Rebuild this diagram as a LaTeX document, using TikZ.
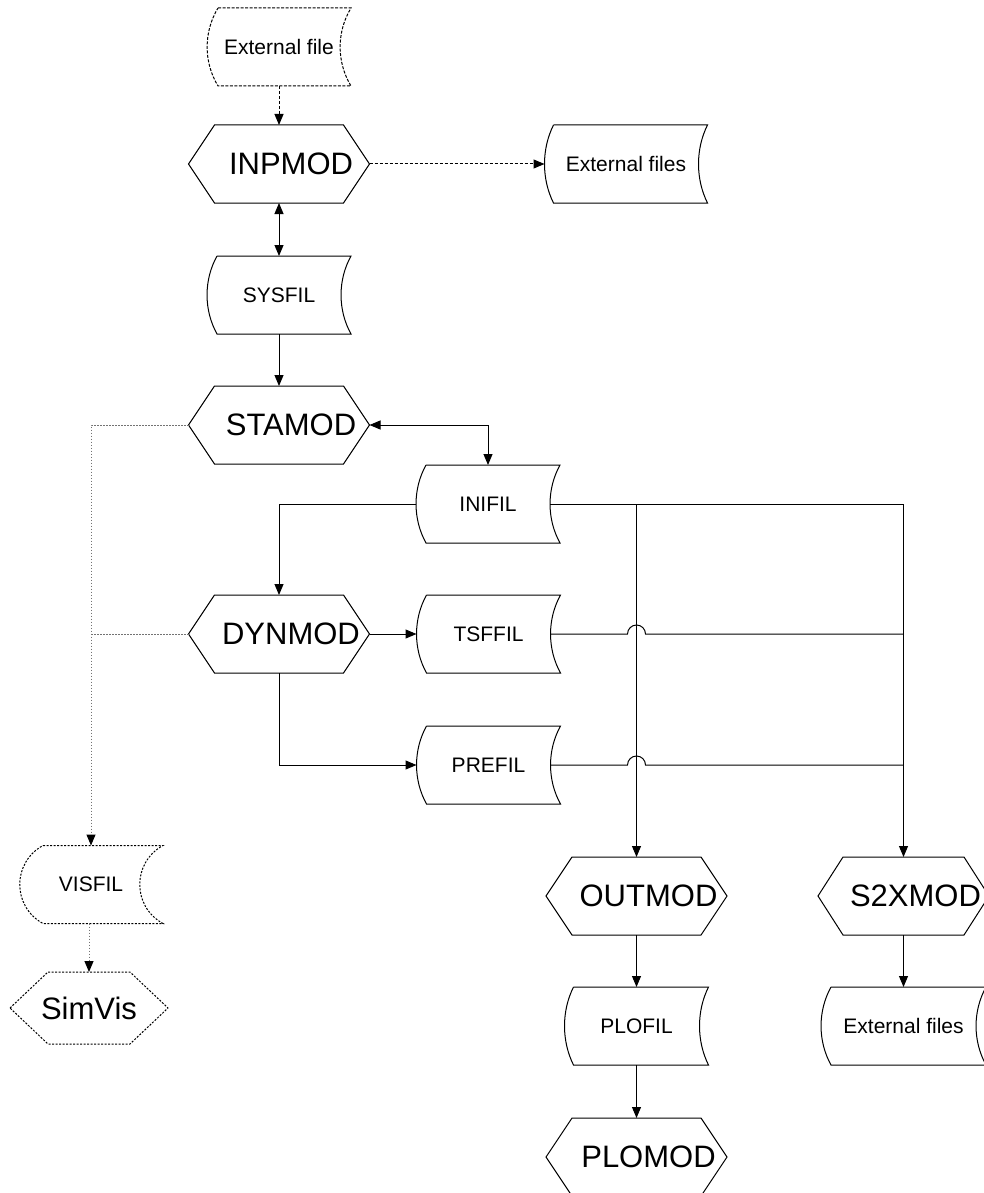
\documentclass[tikz,border=0pt]{standalone}
\usepackage{fontspec}
\setmainfont{Liberation Sans}
\usetikzlibrary{arrows.meta,positioning}
\newcommand{\modfont}{\fontsize{31}{37}\selectfont}
\newcommand{\filfont}{\fontsize{21}{25}\selectfont}

\begin{document}
\begin{tikzpicture}[x=1pt, y=-1pt,
	every node/.style={inner sep=0pt, outer sep=0pt},
	modbox/.style={minimum width=181pt, minimum height=78pt, font=\modfont,
		execute at begin node=\hspace*{24pt}},
	filebox/.style={minimum width=144pt, minimum height=78pt, font=\filfont},
	shapeline/.style={line width=1pt, black},
	dashline/.style={shapeline, dash pattern=on 3pt off 1.5pt},
	dotshape/.style={shapeline, dash pattern=on 2pt off 1.5pt},
	link/.style={line width=1pt, black},
	flow/.style={link, -{Triangle[length=11pt,width=9pt]}},
	dflow/.style={link, {Triangle[length=11pt,width=9pt]}-{Triangle[length=11pt,width=9pt]}},
	dashflow/.style={flow, dash pattern=on 3pt off 2pt},
	dotlink/.style={line width=1pt, black!55, dash pattern=on 1.5pt off 1.5pt},
	dotflow/.style={dotlink, -{Triangle[length=11pt,width=9pt,color=black]}},
]
\useasboundingbox (0,0) rectangle (984,1193);
\clip (0,0) rectangle (984,1193);

% main chain
\node[filebox] (extin) at (279,47) {External file};
\node[modbox, below=39pt of extin] (inpmod) {INPMOD};
\node[filebox, minimum width=163pt, right=175pt of inpmod] (extout) {External files};
\node[filebox, below=53pt of inpmod] (sysfil) {SYSFIL};
\node[modbox, below=52pt of sysfil] (stamod) {STAMOD};
\node[filebox] (inifil) at (488,504) {INIFIL};
\node[modbox, below=131pt of stamod] (dynmod) {DYNMOD};
\node[filebox, right=47pt of dynmod] (tsffil) {TSFFIL};
\node[filebox, below=53pt of tsffil] (prefil) {PREFIL};

% output side
\node[modbox] (outmod) at (636.5,896) {OUTMOD};
\node[filebox, below=52pt of outmod] (plofil) {PLOFIL};
\node[modbox, below=53pt of plofil] (plomod) {PLOMOD};
\node[modbox, minimum width=171pt, right=91pt of outmod] (s2xmod) {S2XMOD};
\node[filebox, minimum width=165pt, below=52pt of s2xmod] (extout2) {External files};

% visualisation
\node[filebox] (visfil) at (91,884.5) {VISFIL};
\node[minimum width=158pt, minimum height=72pt, font=\modfont] (simvis) at (89,1008) {SimVis};

% outlines
\foreach \n/\d/\e/\h/\s in {extin/11/14.5/24/dashline, sysfil/10/13.3/24/shapeline,
		inifil/10/13.3/24/shapeline, tsffil/10/13.3/24/shapeline, prefil/10/13.3/24/shapeline,
		plofil/9/12/24/shapeline, extout/9/12/24/shapeline, extout2/10/13.3/24/shapeline,
		visfil/24/31/17/dotshape}
	\draw[\s] ([xshift=\d pt]\n.north west) -- (\n.north east)
		.. controls ([shift={(-\e,\h)}]\n.north east) and ([shift={(-\e,-\h)}]\n.south east) .. (\n.south east)
		-- ([xshift=\d pt]\n.south west)
		.. controls ([shift={(\d-\e,-\h)}]\n.south west) and ([shift={(\d-\e,\h)}]\n.north west)
		.. ([xshift=\d pt]\n.north west);

\foreach \n/\d in {inpmod/26, stamod/26, dynmod/26, outmod/26, s2xmod/25, plomod/26}
	\draw[shapeline] (\n.west) -- ([xshift=\d pt]\n.north west) -- ([xshift=-\d pt]\n.north east)
		-- (\n.east) -- ([xshift=-\d pt]\n.south east) -- ([xshift=\d pt]\n.south west) -- cycle;
\draw[dotshape] (simvis.west) -- ([xshift=38pt]simvis.north west) -- ([xshift=-38pt]simvis.north east)
	-- (simvis.east) -- ([xshift=-38pt]simvis.south east) -- ([xshift=38pt]simvis.south west) -- cycle;

% connectors
\draw[dashflow] (extin.south) -- (inpmod.north);
\draw[dashflow] (inpmod.east) -- (extout.west);
\draw[dflow] (inpmod.south) -- (sysfil.north);
\draw[flow] (sysfil.south) -- (stamod.north);
\draw[dflow] (stamod.east) -| (inifil.north);
\draw[flow] (inifil.west) -| (dynmod.north);
\draw[flow] (dynmod.east) -- (tsffil.west);
\draw[flow] (dynmod.south) |- (prefil.west);

\draw[flow] ([xshift=-10pt]inifil.east) -| (s2xmod.north);
\draw[flow] (inifil.east -| outmod.north) -- (outmod.north);
\draw[link] ([xshift=-10pt]tsffil.east) -- ([xshift=-9pt]tsffil.east -| outmod.north)
	arc[start angle=180, end angle=0, radius=9pt] -- (tsffil.east -| s2xmod.north);
\draw[link] ([xshift=-10pt]prefil.east) -- ([xshift=-9pt]prefil.east -| outmod.north)
	arc[start angle=180, end angle=0, radius=9pt] -- (prefil.east -| s2xmod.north);

\draw[flow] (outmod.south) -- (plofil.north);
\draw[flow] (plofil.south) -- (plomod.north);
\draw[flow] (s2xmod.south) -- (extout2.north);

\draw[dotflow] (stamod.west) -| (visfil.north);
\draw[dotlink] (dynmod.west) -- (dynmod.west -| visfil.north);
\draw[dotflow] (visfil.south -| simvis.north) -- (simvis.north);
\end{tikzpicture}
\end{document}
